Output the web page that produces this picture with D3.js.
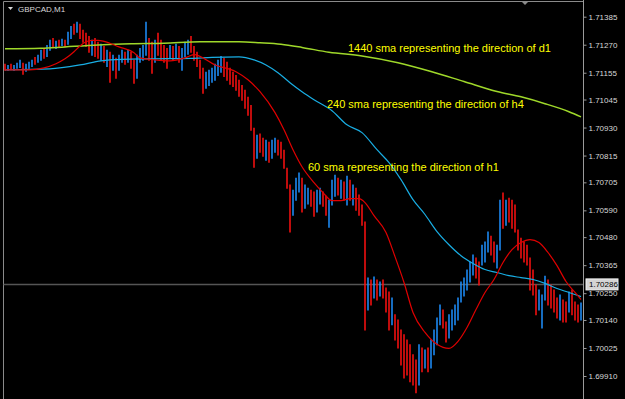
<!DOCTYPE html>
<html>
<head>
<meta charset="utf-8">
<script src="https://cdn.jsdelivr.net/npm/d3@7"></script>
<style>
  body { margin: 0; background: #000; overflow: hidden; }
  svg { display: block; }
  .price-axis text { font-family: "Liberation Sans", Arial, sans-serif; font-size: 8px; fill: #d8d8d8; }
  .price-axis line, .price-axis path { stroke: #9a9a9a; }
  .sma-label { font-family: "Liberation Sans", Arial, sans-serif; font-size: 11px; fill: #ffff00; }
  .title { font-family: "Liberation Sans", Arial, sans-serif; font-size: 8px; fill: #d8d8d8; }
</style>
</head>
<body>
<div id="wrapper"></div>
<script>
// symbol / timeframe
const symbol = "GBPCAD,M1"

// M1 bars (open = previous close)
const firstOpen = 1.71183
const highs = [
  1.71192, 1.71187, 1.71192, 1.71187, 1.71196, 1.71208, 1.71196, 1.71192, 1.71200, 1.71208,
  1.71220, 1.71229, 1.71249, 1.71257, 1.71269, 1.71290, 1.71298, 1.71286, 1.71290, 1.71294,
  1.71290, 1.71323, 1.71347, 1.71356, 1.71364, 1.71356, 1.71331, 1.71319, 1.71306, 1.71290,
  1.71298, 1.71282, 1.71274, 1.71265, 1.71249, 1.71241, 1.71229, 1.71216, 1.71229, 1.71249,
  1.71241, 1.71249, 1.71241, 1.71208, 1.71229, 1.71257, 1.71269, 1.71364, 1.71298, 1.71282,
  1.71290, 1.71319, 1.71290, 1.71269, 1.71257, 1.71269, 1.71265, 1.71274, 1.71265, 1.71257,
  1.71282, 1.71290, 1.71306, 1.71265, 1.71241, 1.71208, 1.71175, 1.71159, 1.71167, 1.71175,
  1.71192, 1.71208, 1.71224, 1.71216, 1.71200, 1.71175, 1.71159, 1.71146, 1.71126, 1.71105,
  1.71085, 1.71056, 1.71023, 1.70929, 1.70900, 1.70905, 1.70888, 1.70880, 1.70872, 1.70880,
  1.70888, 1.70880, 1.70872, 1.70839, 1.70765, 1.70696, 1.70675, 1.70724, 1.70745, 1.70724,
  1.70696, 1.70683, 1.70675, 1.70667, 1.70675, 1.70683, 1.70667, 1.70650, 1.70634, 1.70716,
  1.70736, 1.70724, 1.70716, 1.70708, 1.70732, 1.70716, 1.70696, 1.70683, 1.70655, 1.70614,
  1.70544, 1.70314, 1.70306, 1.70318, 1.70306, 1.70298, 1.70306, 1.70273, 1.70257, 1.70232,
  1.70163, 1.70142, 1.70101, 1.70081, 1.70060, 1.70040, 1.69999, 1.69978, 1.70040, 1.70027,
  1.70019, 1.70027, 1.70060, 1.70101, 1.70150, 1.70204, 1.70183, 1.70134, 1.70163, 1.70183,
  1.70204, 1.70232, 1.70298, 1.70314, 1.70347, 1.70380, 1.70409, 1.70396, 1.70380, 1.70449,
  1.70462, 1.70503, 1.70486, 1.70462, 1.70449, 1.70634, 1.70663, 1.70634, 1.70642, 1.70634,
  1.70614, 1.70511, 1.70478, 1.70462, 1.70449, 1.70396, 1.70347, 1.70286, 1.70265, 1.70245,
  1.70322, 1.70306, 1.70286, 1.70265, 1.70232, 1.70245, 1.70224, 1.70216, 1.70257, 1.70265,
  1.70216, 1.70204, 1.70212
]
const lows = [
  1.71167, 1.71167, 1.71171, 1.71167, 1.71175, 1.71179, 1.71151, 1.71163, 1.71175, 1.71183,
  1.71192, 1.71200, 1.71208, 1.71216, 1.71224, 1.71249, 1.71261, 1.71257, 1.71265, 1.71269,
  1.71265, 1.71274, 1.71298, 1.71315, 1.71323, 1.71298, 1.71282, 1.71265, 1.71241, 1.71229,
  1.71224, 1.71216, 1.71208, 1.71200, 1.71183, 1.71118, 1.71167, 1.71134, 1.71167, 1.71200,
  1.71192, 1.71200, 1.71175, 1.71114, 1.71134, 1.71200, 1.71208, 1.71229, 1.71208, 1.71155,
  1.71200, 1.71229, 1.71208, 1.71200, 1.71175, 1.71216, 1.71208, 1.71216, 1.71200, 1.71167,
  1.71224, 1.71233, 1.71241, 1.71208, 1.71183, 1.71134, 1.71073, 1.71093, 1.71105, 1.71118,
  1.71126, 1.71146, 1.71159, 1.71142, 1.71126, 1.71110, 1.71101, 1.71085, 1.71060, 1.71044,
  1.71011, 1.70982, 1.70921, 1.70769, 1.70806, 1.70831, 1.70814, 1.70798, 1.70790, 1.70806,
  1.70831, 1.70819, 1.70806, 1.70765, 1.70683, 1.70503, 1.70572, 1.70634, 1.70667, 1.70585,
  1.70601, 1.70618, 1.70609, 1.70568, 1.70585, 1.70618, 1.70609, 1.70572, 1.70523, 1.70614,
  1.70650, 1.70655, 1.70642, 1.70634, 1.70614, 1.70634, 1.70614, 1.70593, 1.70572, 1.70531,
  1.70101, 1.70183, 1.70204, 1.70232, 1.70224, 1.70240, 1.70232, 1.70175, 1.70101, 1.70122,
  1.70060, 1.70027, 1.69957, 1.69904, 1.69916, 1.69888, 1.69875, 1.69843, 1.69875, 1.69929,
  1.69945, 1.69929, 1.69945, 1.69999, 1.70040, 1.70122, 1.70109, 1.70052, 1.70068, 1.70101,
  1.70122, 1.70142, 1.70216, 1.70240, 1.70265, 1.70298, 1.70327, 1.70314, 1.70286, 1.70368,
  1.70380, 1.70421, 1.70409, 1.70380, 1.70355, 1.70429, 1.70519, 1.70531, 1.70544, 1.70519,
  1.70503, 1.70429, 1.70396, 1.70380, 1.70368, 1.70265, 1.70245, 1.70163, 1.70183, 1.70109,
  1.70224, 1.70204, 1.70191, 1.70175, 1.70150, 1.70142, 1.70134, 1.70134, 1.70175, 1.70163,
  1.70142, 1.70134, 1.70142
]
const closes = [
  1.71179, 1.71183, 1.71179, 1.71183, 1.71192, 1.71200, 1.71167, 1.71183, 1.71192, 1.71204,
  1.71200, 1.71220, 1.71237, 1.71229, 1.71257, 1.71282, 1.71269, 1.71278, 1.71274, 1.71286,
  1.71278, 1.71315, 1.71339, 1.71331, 1.71352, 1.71311, 1.71298, 1.71290, 1.71257, 1.71274,
  1.71249, 1.71229, 1.71249, 1.71216, 1.71229, 1.71167, 1.71208, 1.71175, 1.71216, 1.71229,
  1.71208, 1.71233, 1.71187, 1.71126, 1.71216, 1.71241, 1.71249, 1.71269, 1.71229, 1.71187,
  1.71269, 1.71249, 1.71241, 1.71216, 1.71208, 1.71249, 1.71229, 1.71257, 1.71216, 1.71229,
  1.71257, 1.71269, 1.71257, 1.71229, 1.71200, 1.71159, 1.71118, 1.71134, 1.71142, 1.71159,
  1.71167, 1.71192, 1.71200, 1.71167, 1.71151, 1.71134, 1.71126, 1.71110, 1.71085, 1.71064,
  1.71036, 1.71003, 1.70929, 1.70839, 1.70872, 1.70860, 1.70839, 1.70847, 1.70819, 1.70860,
  1.70872, 1.70847, 1.70831, 1.70777, 1.70696, 1.70614, 1.70634, 1.70696, 1.70716, 1.70634,
  1.70655, 1.70667, 1.70642, 1.70593, 1.70650, 1.70667, 1.70634, 1.70593, 1.70614, 1.70696,
  1.70708, 1.70675, 1.70683, 1.70667, 1.70675, 1.70655, 1.70667, 1.70614, 1.70593, 1.70544,
  1.70224, 1.70286, 1.70265, 1.70298, 1.70257, 1.70273, 1.70249, 1.70204, 1.70142, 1.70150,
  1.70081, 1.70060, 1.70019, 1.69978, 1.69957, 1.69937, 1.69904, 1.69875, 1.69999, 1.69957,
  1.69986, 1.69957, 1.70019, 1.70081, 1.70122, 1.70175, 1.70134, 1.70081, 1.70142, 1.70150,
  1.70183, 1.70216, 1.70265, 1.70286, 1.70327, 1.70355, 1.70380, 1.70347, 1.70327, 1.70429,
  1.70437, 1.70478, 1.70429, 1.70409, 1.70429, 1.70593, 1.70577, 1.70601, 1.70577, 1.70552,
  1.70531, 1.70449, 1.70429, 1.70409, 1.70396, 1.70306, 1.70273, 1.70204, 1.70224, 1.70224,
  1.70286, 1.70257, 1.70224, 1.70204, 1.70183, 1.70216, 1.70163, 1.70150, 1.70232, 1.70204,
  1.70163, 1.70150, 1.70175
]

// moving averages, sampled as [bar index, price]
const sma1440 = [
  [0, 1.71253], [12, 1.71255], [20, 1.71261], [31, 1.71269], [42, 1.71274], [53, 1.71276],
  [65, 1.71282], [78, 1.71282], [85, 1.71278], [92, 1.71272], [99, 1.71259], [108, 1.71239],
  [119, 1.71224], [131, 1.71196], [142, 1.71160], [153, 1.71119], [164, 1.71078],
  [172, 1.71056], [180, 1.71028], [188, 1.70995], [192, 1.70974]
]
const sma240 = [
  [0, 1.71167], [15, 1.71171], [25, 1.71187], [32, 1.71204], [39, 1.71210], [49, 1.71212],
  [62, 1.71214], [69, 1.71218], [78, 1.71220], [83, 1.71208], [87, 1.71187], [91, 1.71155],
  [95, 1.71114], [99, 1.71077], [103, 1.71044], [109, 1.70999], [114, 1.70941], [119, 1.70909],
  [124, 1.70839], [128, 1.70786], [132, 1.70716], [136, 1.70634], [140, 1.70573], [144, 1.70503],
  [148, 1.70449], [152, 1.70404], [156, 1.70372], [160, 1.70347], [164, 1.70335], [168, 1.70322],
  [172, 1.70314], [176, 1.70306], [180, 1.70290], [184, 1.70269], [188, 1.70253], [192, 1.70236]
]
const sma60 = [
  [0, 1.71167], [8, 1.71167], [13, 1.71175], [17, 1.71192], [20, 1.71212], [23, 1.71241],
  [25, 1.71265], [27, 1.71282], [29, 1.71288], [31, 1.71288], [33, 1.71284], [38, 1.71261],
  [43, 1.71237], [45, 1.71216], [50, 1.71208], [55, 1.71204], [60, 1.71216], [63, 1.71229],
  [70, 1.71187], [77, 1.71159], [81, 1.71126], [85, 1.71077], [90, 1.70991], [93, 1.70921],
  [96, 1.70839], [99, 1.70769], [103, 1.70704], [106, 1.70663], [109, 1.70630], [112, 1.70630],
  [115, 1.70638], [118, 1.70638], [120, 1.70622], [123, 1.70568], [127, 1.70499], [130, 1.70400],
  [133, 1.70294], [136, 1.70171], [140, 1.70089], [144, 1.70040], [148, 1.70023], [151, 1.70052],
  [154, 1.70109], [157, 1.70183], [160, 1.70253], [163, 1.70306], [166, 1.70376], [169, 1.70429],
  [172, 1.70458], [175, 1.70470], [178, 1.70458], [181, 1.70417], [184, 1.70363], [187, 1.70298],
  [190, 1.70253], [192, 1.70224]
]

// price scale labels and the horizontal line price
const priceTicks = [
  1.71385, 1.71270, 1.71155, 1.71045, 1.70930, 1.70815, 1.70705,
  1.70590, 1.70480, 1.70365, 1.70250, 1.70140, 1.70025, 1.69910
]
const linePrice = 1.70286

// text comments, anchored at [bar index, price]
const comments = [
  { text: "1440 sma representing the direction of d1", at: [114.3, 1.71241] },
  { text: "240 sma representing the direction of h4", at: [107.3, 1.71011] },
  { text: "60 sma representing the direction of h1", at: [101, 1.70753] },
]

function drawChart() {
  const dimensions = {
    width: 625,
    height: 399,
    plotLeft: 3.5,
    plotTop: 1.5,
    axisX: 583.5,
    firstBarX: 5,
    lastBarX: 581,
  }

  const wrapper = d3.select("#wrapper")
    .append("svg")
      .attr("width", dimensions.width)
      .attr("height", dimensions.height)
      .style("background", "#000")

  // scales
  const xScale = d3.scaleLinear()
    .domain([0, closes.length - 1])
    .range([dimensions.firstBarX, dimensions.lastBarX])

  const yScale = d3.scaleLinear()
    .domain([1.69910, 1.71385])
    .range([376, 16.7])

  // frame
  wrapper.append("path")
      .attr("d", `M${dimensions.plotLeft},${dimensions.height} V${dimensions.plotTop} H${dimensions.axisX}`)
      .attr("fill", "none")
      .attr("stroke", "#8a8a8a")

  // horizontal line at the current price
  wrapper.append("line")
      .attr("x1", dimensions.plotLeft)
      .attr("x2", dimensions.axisX)
      .attr("y1", Math.round(yScale(linePrice)) + 0.5)
      .attr("y2", Math.round(yScale(linePrice)) + 0.5)
      .attr("stroke", "#555")
      .attr("stroke-width", 1.5)

  // bars
  const bars = closes.map((c, i) => ({
    i,
    high: highs[i],
    low: lows[i],
    open: i === 0 ? firstOpen : closes[i - 1],
    close: c,
  }))

  wrapper.append("g")
    .selectAll("line")
    .data(bars)
    .join("line")
      .attr("x1", d => xScale(d.i))
      .attr("x2", d => xScale(d.i))
      .attr("y1", d => yScale(d.high))
      .attr("y2", d => yScale(d.low) + 1)
      .attr("stroke", d => d.close >= d.open ? "#1e90ff" : "#ff1010")
      .attr("stroke-width", 1.5)

  // moving averages
  const smaLine = d3.line()
    .x(d => xScale(d[0]))
    .y(d => yScale(d[1]))
    .curve(d3.curveMonotoneX)

  const smas = [
    { values: sma1440, color: "#9fd82a", width: 1.5 },
    { values: sma240, color: "#19aee4", width: 1.2 },
    { values: sma60, color: "#e00000", width: 1.2 },
  ]
  wrapper.append("g")
    .selectAll("path")
    .data(smas)
    .join("path")
      .attr("d", d => smaLine(d.values))
      .attr("fill", "none")
      .attr("stroke", d => d.color)
      .attr("stroke-width", d => d.width)

  // comments
  wrapper.append("g")
    .selectAll("text")
    .data(comments)
    .join("text")
      .attr("class", "sma-label")
      .attr("x", d => xScale(d.at[0]))
      .attr("y", d => yScale(d.at[1]))
      .text(d => d.text)

  // price axis
  const yAxisGenerator = d3.axisRight()
    .scale(yScale)
    .tickValues(priceTicks)
    .tickSize(3)
    .tickPadding(2)
    .tickFormat(d3.format(".5f"))

  const yAxis = wrapper.append("g")
      .attr("class", "price-axis")
      .attr("transform", `translate(${dimensions.axisX}, 0)`)
      .call(yAxisGenerator)
  yAxis.select(".domain")
      .attr("d", `M0,0V${dimensions.height}`)

  // price label box
  const yLine = yScale(linePrice)
  const priceLabel = wrapper.append("g")
      .attr("transform", `translate(${dimensions.axisX + 2}, ${yLine})`)
  priceLabel.append("rect")
      .attr("x", 0.5)
      .attr("y", -5.5)
      .attr("width", 32)
      .attr("height", 11)
      .attr("fill", "#d4d4d4")
      .attr("stroke", "#f4f4f4")
  priceLabel.append("text")
      .attr("class", "title")
      .attr("x", 3.5)
      .attr("y", 3)
      .style("fill", "#000")
      .text(d3.format(".5f")(linePrice))

  // chart shift marker
  wrapper.append("path")
      .attr("d", "M522,2 L528,2 L525,5 Z")
      .attr("fill", "#8a8a8a")

  // title
  wrapper.append("path")
      .attr("d", "M8,7 L13,7 L10.5,10 Z")
      .attr("fill", "#d8d8d8")
  wrapper.append("text")
      .attr("class", "title")
      .attr("x", 18)
      .attr("y", 12)
      .text(symbol)
}
drawChart()
</script>
</body>
</html>
